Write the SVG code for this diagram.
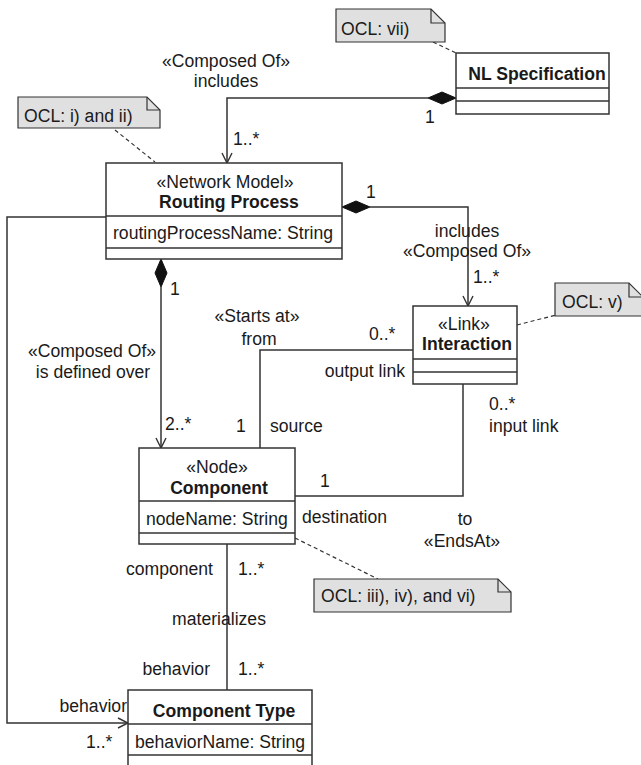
<svg xmlns="http://www.w3.org/2000/svg" width="641" height="765" viewBox="0 0 641 765">
<defs>
<style>
text{font-family:"Liberation Sans",Arial,sans-serif;font-size:17.6px;fill:#1a1a1a}
.b{font-weight:bold}
.m{text-anchor:middle}
.e{text-anchor:end}
.box{fill:#fff;stroke:#333;stroke-width:1.5}
.note{fill:#e0e0e0;stroke:#333;stroke-width:1.2}
.ln{fill:none;stroke:#333;stroke-width:1.5}
.fold{fill:none;stroke:#333;stroke-width:1.2}
.dash{fill:none;stroke:#333;stroke-width:1.2;stroke-dasharray:4 3}
.dia{fill:#111;stroke:#111;stroke-width:1}
</style>
<marker id="open" viewBox="0 0 12 12" refX="11" refY="6" markerWidth="12" markerHeight="12" markerUnits="userSpaceOnUse" orient="auto">
<path d="M1 1 L11 6 L1 11" fill="none" stroke="#333" stroke-width="1.4"/>
</marker>
</defs>
<rect width="641" height="765" fill="#fff"/>

<g id="connectors">
<path class="ln" d="M428 98 H227 V163" marker-end="url(#open)"/>
<path class="dia" d="M456 98 L442 92 L428 98 L442 104 Z"/>
<path class="ln" d="M370 207 H468 V306" marker-end="url(#open)"/>
<path class="dia" d="M342 207 L356 201 L370 207 L356 213 Z"/>
<path class="ln" d="M161 287 V448" marker-end="url(#open)"/>
<path class="dia" d="M161 259 L155 273 L161 287 L167 273 Z"/>
<path class="ln" d="M106 217 H7 V723 H128" marker-end="url(#open)"/>
<path class="ln" d="M413 350 H260 V448"/>
<path class="ln" d="M463 384 V496 H295"/>
<path class="ln" d="M227 544 V690"/>
<path class="dash" d="M433 42 L456 53"/>
<path class="dash" d="M115 130 L155 162"/>
<path class="dash" d="M517 325 L556 315"/>
<path class="dash" d="M295 538 L378 579"/>
</g>

<g id="labels">
<text class="m" x="226" y="67">«Composed Of»</text>
<text class="m" x="226" y="87">includes</text>
<text x="425" y="123">1</text>
<text x="233" y="145">1..*</text>
<text x="366" y="198">1</text>
<text class="m" x="467" y="237">includes</text>
<text class="m" x="467" y="257">«Composed Of»</text>
<text x="473" y="283">1..*</text>
<text x="170" y="295">1</text>
<text class="m" x="92" y="357">«Composed Of»</text>
<text class="m" x="93" y="378">is defined over</text>
<text x="165" y="430">2..*</text>
<text class="m" x="257" y="322">«Starts at»</text>
<text class="m" x="259" y="345">from</text>
<text x="369" y="340">0..*</text>
<text class="e" x="405" y="377">output link</text>
<text x="236" y="432">1</text>
<text x="270" y="432">source</text>
<text x="489" y="410">0..*</text>
<text x="489" y="432">input link</text>
<text x="320" y="487">1</text>
<text x="302" y="523">destination</text>
<text class="m" x="465" y="525">to</text>
<text class="m" x="462" y="547">«EndsAt»</text>
<text class="e" x="213" y="575">component</text>
<text x="238" y="575">1..*</text>
<text class="m" x="219" y="625">materializes</text>
<text class="e" x="210" y="675">behavior</text>
<text x="238" y="675">1..*</text>
<text class="e" x="127" y="712">behavior</text>
<text x="86" y="748">1..*</text>
</g>

<g id="note-vii">
<path class="note" d="M336 9 H431 L445 23 V42 H336 Z"/>
<path class="fold" d="M431 9 V23 H445"/>
<text x="341" y="35">OCL: vii)</text>
</g>

<g id="note-i-ii">
<path class="note" d="M18 97 H147 L160 110 V128 H18 Z"/>
<path class="fold" d="M147 97 V110 H160"/>
<text x="24" y="122">OCL: i) and ii)</text>
</g>

<g id="note-v">
<path class="note" d="M555 283 H629 L643 297 V316 H555 Z"/>
<path class="fold" d="M629 283 V297 H643"/>
<text x="562" y="308">OCL: v)</text>
</g>

<g id="note-iii">
<path class="note" d="M314 579 H498 L511 592 V612 H314 Z"/>
<path class="fold" d="M498 579 V592 H511"/>
<text x="321" y="602">OCL: iii), iv), and vi)</text>
</g>

<g id="nl-specification">
<rect class="box" x="456" y="53" width="153" height="61"/>
<line class="ln" x1="456" y1="88" x2="609" y2="88"/>
<line class="ln" x1="456" y1="101" x2="609" y2="101"/>
<text class="b m" x="537" y="80">NL Specification</text>
</g>

<g id="routing-process">
<rect class="box" x="106" y="163" width="236" height="96"/>
<line class="ln" x1="106" y1="216" x2="342" y2="216"/>
<line class="ln" x1="106" y1="248" x2="342" y2="248"/>
<text class="m" x="225" y="188">«Network Model»</text>
<text class="b m" x="229" y="208">Routing Process</text>
<text x="113" y="239">routingProcessName: String</text>
</g>

<g id="interaction">
<rect class="box" x="413" y="306" width="104" height="78"/>
<line class="ln" x1="413" y1="359" x2="517" y2="359"/>
<line class="ln" x1="413" y1="372" x2="517" y2="372"/>
<text class="m" x="464" y="330">«Link»</text>
<text class="b m" x="467" y="350">Interaction</text>
</g>

<g id="component">
<rect class="box" x="139" y="448" width="156" height="96"/>
<line class="ln" x1="139" y1="501" x2="295" y2="501"/>
<line class="ln" x1="139" y1="533" x2="295" y2="533"/>
<text class="m" x="217" y="473">«Node»</text>
<text class="b m" x="219" y="494">Component</text>
<text x="146" y="525">nodeName: String</text>
</g>

<g id="component-type">
<rect class="box" x="128" y="690" width="184" height="80"/>
<line class="ln" x1="128" y1="724" x2="312" y2="724"/>
<line class="ln" x1="128" y1="755" x2="312" y2="755"/>
<text class="b m" x="224" y="717">Component Type</text>
<text x="135" y="748">behaviorName: String</text>
</g>
</svg>
